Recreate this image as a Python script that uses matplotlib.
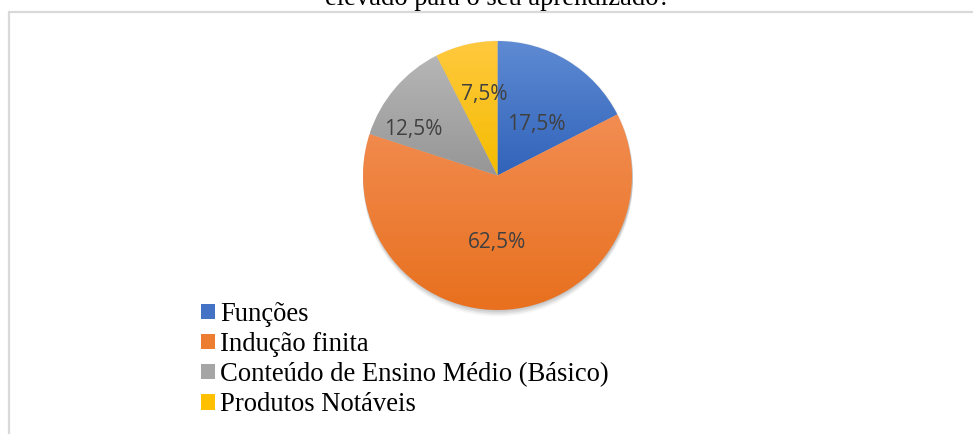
import numpy as np
import matplotlib.pyplot as plt
from matplotlib.patches import Patch, Rectangle, Circle
from matplotlib.colors import to_rgb

categorias = ["Funções", "Indução finita",
              "Conteúdo de Ensino Médio (Básico)", "Produtos Notáveis"]
percentuais = [17.5, 62.5, 12.5, 7.5]
rotulos = ["17,5%", "62,5%", "12,5%", "7,5%"]
titulo = "elevado para o seu aprendizado?"

cores = ["#4472C4", "#ED7D31", "#A5A5A5", "#FFC000"]
# degradê (topo, base) de cada fatia
cores_topo = ["#5F8BD3", "#F28D52", "#B6B6B6", "#FFC93F"]
cores_base = ["#3163BA", "#E8701E", "#969696", "#F5BC00"]
# posição dos rótulos: fração do raio e desvio angular (graus)
dist_rotulo = [0.48, 0.50, 0.71, 0.61]
desvio_ang = [-6, -5, 12, -4]

W, H = 973, 434
fig = plt.figure(figsize=(W / 100, H / 100), dpi=100)
ax = fig.add_axes([0, 0, 1, 1])

cx, cy, r = 497.5, H - 175.5, 134.5

# sombra suave
for k, a in [(0, 0.06), (1.5, 0.06), (3, 0.06), (4.5, 0.05), (6, 0.03)]:
    ax.add_patch(Circle((cx + 0.5, cy - k), r + 0.5, color="black", alpha=a, lw=0, zorder=1))

wedges, _ = ax.pie(percentuais, startangle=90, counterclock=False,
                   center=(cx, cy), radius=r, colors=cores,
                   wedgeprops=dict(linewidth=0))

for w, ct, cb in zip(wedges, cores_topo, cores_base):
    w.set_zorder(2)
    claro = np.array(to_rgb(ct))
    escuro = np.array(to_rgb(cb))
    t = np.linspace(0, 1, 256)[:, None]
    grad = claro * (1 - t) + escuro * t
    grad = np.repeat(grad[:, None, :], 2, axis=1)
    ext = w.get_path().get_extents()
    im = ax.imshow(grad, extent=[ext.x0, ext.x1, ext.y0, ext.y1],
                   origin="upper", aspect="auto", zorder=3,
                   interpolation="bilinear")
    im.set_clip_path(w)
    w.set_facecolor("none")

for w, txt, d, da in zip(wedges, rotulos, dist_rotulo, desvio_ang):
    ang = np.deg2rad((w.theta1 + w.theta2) / 2 + da)
    ax.text(cx + r * d * np.cos(ang), cy + r * d * np.sin(ang), txt,
            ha="center", va="center", fontsize=15, color="#404040",
            family="Open Sans", zorder=5)

ax.set_xlim(0, W)
ax.set_ylim(0, H)
ax.set_aspect("auto")
ax.axis("off")

# borda do gráfico
ax.add_patch(Rectangle((8.5, -5), W + 10, H - 12 + 5, fill=False,
                       edgecolor="#D9D9D9", linewidth=1.6, zorder=6))

fig.text(497.5 / W, 1 - 5 / H, titulo, ha="center", va="baseline",
         fontsize=19.2, family="Liberation Serif", color="black")

handles = [Patch(facecolor=c, edgecolor="none") for c in cores]
fig.legend(handles, categorias, loc="upper left",
           bbox_to_anchor=(201 / W, 1 - 302 / H), frameon=False,
           prop=dict(family="Liberation Serif", size=19.2),
           handlelength=0.52, handleheight=0.52, handletextpad=0.2,
           labelspacing=0.19, borderpad=0, borderaxespad=0)

fig.savefig("out.png", dpi=100, facecolor="white")
